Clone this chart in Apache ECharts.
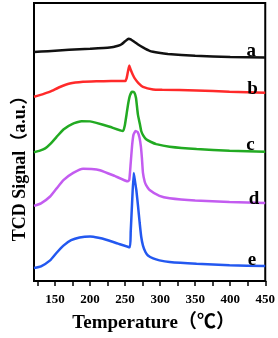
<!DOCTYPE html>
<html><head><meta charset="utf-8">
<script src="https://cdn.jsdelivr.net/npm/echarts@6/dist/echarts.min.js"></script>
<style>html,body{margin:0;padding:0;background:#fff}#c{width:278px;height:338px}</style>
</head><body><div id="c"></div>
<script>
var curveA = [[120,233],[140,234],[170,235.5],[200,236.5],[228,237.7],[240,239.5],[245,241],[250,244],[255,246.7],[258,246],[263,243.5],[268,241],[276,237.5],[285,234.3],[298,232.3],[311,231],[350,229.3],[400,228],[450,227.5]];
var curveB = [[120,187.5],[132,190],[143,192.7],[157,197.5],[171,201],[190,202.8],[209,203.3],[230,203.5],[250,203.5],[252,206],[254,213],[256,219.3],[258,215],[261,210],[264,206],[269,201.5],[275.5,197.7],[290,195],[303,194.7],[352,194],[399,192.7],[450,191.7]];
var curveC = [[120,131],[128.5,132.7],[136,135],[143,139.3],[152,146.5],[162,154.3],[175,160],[188,162.7],[200,162.5],[209,161],[228,157],[247,152.7],[249.5,158],[252,169.3],[254.5,181],[257,189],[260,192.7],[263,192],[265.5,186.5],[268.3,169.3],[271,160],[273,152.7],[276,148],[280,144.3],[287,141.5],[294.5,139.3],[313.5,136.7],[352,134.3],[399,132.7],[450,131.7]];
var curveD = [[120,76.5],[130,79],[143,86],[152,94],[162,102.7],[176,110],[190,114.3],[202,114],[214,112.7],[235,107],[254,101.5],[256,103],[258,120],[260,138],[262,149],[265,152.7],[268,151.5],[270.5,146],[272.5,137],[274,125],[275.5,110],[278,101],[280,97.7],[285,92.7],[299,86.7],[313.5,84.3],[350,82],[399,80.5],[450,79.3]];
var curveE = [[120,13.3],[130,15],[143,21],[152,28.5],[162,36],[173,41.5],[185,44.3],[200,45.3],[212,44],[223,42],[240,38],[256.6,34.3],[258,50],[260,80],[262.3,110],[264,102],[266,92.7],[268.5,76],[270.8,59.3],[273,45],[275.5,36],[279,29.5],[282.6,26],[290,23],[299,21],[313.5,19.3],[352,17.5],[399,16],[450,15.3]];
var labelNames = ['a','b','c','d','e'];
var labelPos = [[430,234],[432,195],[429,138],[434,83],[431,21]];
var tickValues = [125,150,175,200,225,250,275,300,325,350,375,400,425,450];
var tickLabels = [150,200,250,300,350,400,450];
var colors = ['#111111','#ff2a2a','#22aa22','#c35cf0','#2358f0'];
var curves = [curveA, curveB, curveC, curveD, curveE];

var serif = "'Liberation Serif','Times New Roman','Noto Sans CJK SC',serif";
var chart = echarts.init(document.getElementById('c'), null, {renderer:'canvas'});
var series = curves.map(function(d, i){
  return {
    type:'line', data:d, showSymbol:false, smooth:0.15,
    lineStyle:{color:colors[i], width:2.5}, itemStyle:{color:colors[i]},
    silent:true, animation:false,
    markPoint:{symbol:'circle', symbolSize:1, itemStyle:{color:'rgba(0,0,0,0)'},
      label:{show:true, position:'inside', formatter:labelNames[i], color:'#000',
        fontFamily:serif, fontWeight:'bold', fontSize:19},
      data:[{coord:labelPos[i]}]}
  };
});
chart.setOption({
  animation:false,
  backgroundColor:'#fff',
  grid:{left:34, right:12, top:3, bottom:52, show:true, borderColor:'#000', borderWidth:2},
  xAxis:{type:'value', min:120, max:450,
    axisLine:{show:true, lineStyle:{color:'#000', width:2}},
    axisTick:{show:true, inside:false, length:5, lineStyle:{color:'#000', width:1.5}, customValues:tickValues},
    axisLabel:{show:true, customValues:tickLabels, color:'#000', fontFamily:serif, fontWeight:'bold', fontSize:13, margin:12},
    splitLine:{show:false},
    name:'Temperature（℃）', nameLocation:'middle', nameGap:33,
    nameTextStyle:{color:'#000', fontFamily:serif, fontWeight:'bold', fontSize:19, padding:[0,0,0,8]}
  },
  yAxis:{type:'value', min:0, max:283,
    axisLine:{show:true, lineStyle:{color:'#000', width:2}},
    axisTick:{show:false}, axisLabel:{show:false}, splitLine:{show:false}
  },
  graphic:[{type:'text', x:20, y:164, rotation:Math.PI/2,
    style:{text:'TCD Signal（a.u.）', fill:'#000', font:"bold 18px "+serif, textAlign:'center', textVerticalAlign:'middle'}}],
  series:series
});
</script></body></html>
